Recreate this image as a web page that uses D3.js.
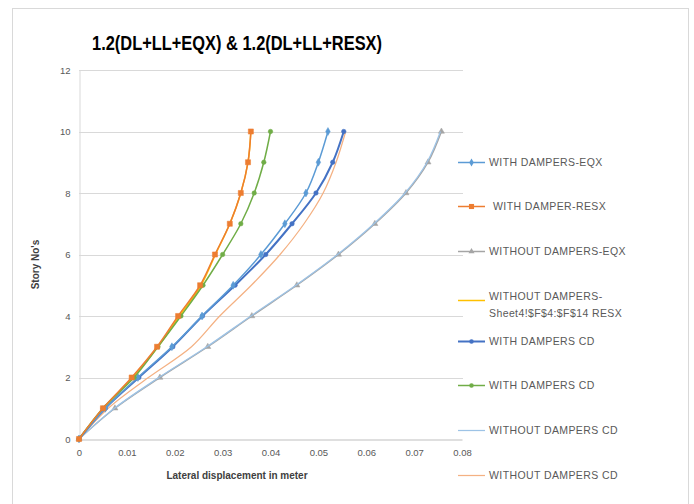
<!DOCTYPE html>
<html>
<head>
<meta charset="utf-8">
<script src="https://cdn.jsdelivr.net/npm/d3@7"></script>
<style>
  html, body { margin: 0; padding: 0; background: #fff; }
  svg { display: block; }
  text { font-family: "Liberation Sans", "DejaVu Sans", sans-serif; }
</style>
</head>
<body>
<svg id="chart" width="694" height="504"></svg>
<script>
// Storey levels (0 = base)
const stories = [0, 1, 2, 3, 4, 5, 6, 7, 8, 9, 10];

// Lateral displacement (m) per storey for each case
const withDampersEqx    = [0, 0.0055, 0.0123, 0.0194, 0.0257, 0.0322, 0.0380, 0.0430, 0.0474, 0.0500, 0.0520];
const withDamperResx    = [0, 0.0050, 0.0110, 0.0163, 0.0207, 0.0253, 0.0284, 0.0315, 0.0338, 0.0353, 0.0359];
const withoutDampersEqx = [0, 0.0075, 0.0169, 0.0269, 0.0361, 0.0455, 0.0542, 0.0618, 0.0683, 0.0729, 0.0757];
const withoutDampersResx= [0, 0.0051, 0.0112, 0.0165, 0.0210, 0.0255, 0.0285, 0.0315, 0.0338, 0.0353, 0.0359];
const withDampersCdA    = [0, 0.0055, 0.0125, 0.0196, 0.0258, 0.0326, 0.0390, 0.0445, 0.0495, 0.0530, 0.0553];
const withDampersCdB    = [0, 0.0050, 0.0115, 0.0165, 0.0213, 0.0259, 0.0300, 0.0338, 0.0366, 0.0386, 0.0400];
const withoutDampersCdA = [0, 0.0074, 0.0167, 0.0267, 0.0359, 0.0453, 0.0540, 0.0616, 0.0681, 0.0727, 0.0755];
const withoutDampersCdB = [0, 0.0061, 0.0145, 0.0235, 0.0294, 0.0360, 0.0420, 0.0470, 0.0510, 0.0537, 0.0557];

const seriesNames = [
  "WITH DAMPERS-EQX",
  "WITH DAMPER-RESX",
  "WITHOUT DAMPERS-EQX",
  ["WITHOUT DAMPERS-", "Sheet4!$F$4:$F$14 RESX"],
  "WITH DAMPERS CD",
  "WITH DAMPERS CD",
  "WITHOUT DAMPERS CD",
  "WITHOUT DAMPERS CD"
];
const seriesValues = [withDampersEqx, withDamperResx, withoutDampersEqx, withoutDampersResx,
                      withDampersCdA, withDampersCdB, withoutDampersCdA, withoutDampersCdB];
const seriesColors = ["#5B9BD5", "#ED7D31", "#A5A5A5", "#FFC000", "#4472C4", "#70AD47", "#9DC3E6", "#F4B183"];
const seriesMarkers = ["diamond", "square", "triangle", null, "circle", "circle", null, null];
const seriesWidths = [1.5, 1.5, 1.5, 1.5, 2, 1.5, 1.25, 1.25];

const xTicks = [0, 0.01, 0.02, 0.03, 0.04, 0.05, 0.06, 0.07, 0.08];
const yTicks = [0, 2, 4, 6, 8, 10, 12];

const title = "1.2(DL+LL+EQX) & 1.2(DL+LL+RESX)";
const xTitle = "Lateral displacement in meter";
const yTitle = "Story No's";

const svg = d3.select("#chart");

// chart frame
svg.append("rect")
  .attr("x", 12.5).attr("y", 8.5).attr("width", 676).attr("height", 500)
  .attr("fill", "#fff").attr("stroke", "#D9D9D9");

const plot = { left: 79, right: 462, top: 70, bottom: 439 };

const x = d3.scaleLinear().domain([0, 0.08]).range([plot.left, plot.right]);
const y = d3.scaleLinear().domain([0, 12]).range([plot.bottom, plot.top]);

// horizontal gridlines
svg.append("g")
  .selectAll("line")
  .data(yTicks.filter(t => t > 0))
  .join("line")
  .attr("x1", plot.left).attr("x2", plot.right + 1)
  .attr("y1", d => Math.round(y(d)) + 0.5).attr("y2", d => Math.round(y(d)) + 0.5)
  .attr("stroke", "#D9D9D9").attr("stroke-width", 1);

// y axis
const yAxis = svg.append("g")
  .attr("transform", `translate(${plot.left + 0.5},0)`)
  .call(d3.axisLeft(y).tickValues(yTicks).tickSize(0).tickPadding(9).tickFormat(d3.format("d")));
yAxis.select(".domain").attr("stroke", "#D9D9D9");
yAxis.selectAll("text").attr("fill", "#595959").style("font-size", "9.5px");

// x axis
const xAxis = svg.append("g")
  .attr("transform", `translate(0,${Math.round(y(0)) + 0.5})`)
  .call(d3.axisBottom(x).tickValues(xTicks).tickSize(0).tickPadding(10)
    .tickFormat(d => d === 0 ? "0" : d3.format(".2f")(d).replace(/0$/, "")));
xAxis.select(".domain").attr("stroke", "#BFBFBF");
xAxis.selectAll("text").attr("fill", "#595959").style("font-size", "9.5px");

// smoothed series lines
const line = d3.line()
  .x(d => x(d[0]))
  .y(d => y(d[1]))
  .curve(d3.curveCatmullRom.alpha(0.5));

const drawOrder = [3, 7, 2, 6, 4, 0, 5, 1];
const symbolTypes = { diamond: d3.symbolDiamond, square: d3.symbolSquare, triangle: d3.symbolTriangle, circle: d3.symbolCircle };
const symbolSizes = { diamond: 18, square: 26, triangle: 16, circle: 16 };

drawOrder.forEach(i => {
  const pts = seriesValues[i].map((v, k) => [v, stories[k]]);
  const g = svg.append("g");
  g.append("path")
    .attr("d", line(pts))
    .attr("fill", "none")
    .attr("stroke", seriesColors[i])
    .attr("stroke-width", seriesWidths[i])
    .attr("stroke-linejoin", "round");
  if (seriesMarkers[i]) {
    g.selectAll("path.m")
      .data(pts)
      .join("path")
      .attr("class", "m")
      .attr("transform", d => `translate(${x(d[0])},${y(d[1])})`)
      .attr("d", d3.symbol().type(symbolTypes[seriesMarkers[i]]).size(symbolSizes[seriesMarkers[i]]))
      .attr("fill", seriesColors[i])
      .attr("stroke", seriesColors[i])
      .attr("stroke-width", 0.5);
  }
});

// title
svg.append("text")
  .attr("x", 237).attr("y", 50)
  .attr("text-anchor", "middle")
  .attr("fill", "#000")
  .style("font-size", "21px").style("font-weight", "bold")
  .attr("textLength", 290).attr("lengthAdjust", "spacingAndGlyphs")
  .text(title);

// axis titles
svg.append("text")
  .attr("x", 237).attr("y", 479)
  .attr("text-anchor", "middle")
  .attr("fill", "#404040")
  .style("font-size", "10px").style("font-weight", "bold")
  .text(xTitle);

svg.append("text")
  .attr("transform", `translate(39,${(plot.top + plot.bottom) / 2 + 10}) rotate(-90)`)
  .attr("text-anchor", "middle")
  .attr("fill", "#404040")
  .style("font-size", "10px").style("font-weight", "bold")
  .text(yTitle);

// legend
const legendY = [166, 210, 255, 304, 345, 389, 434, 479];
const legend = svg.append("g");
seriesNames.forEach((name, i) => {
  const ly = legendY[i];
  const g = legend.append("g");
  g.append("line")
    .attr("x1", 458).attr("x2", 485)
    .attr("y1", ly - 3.5).attr("y2", ly - 3.5)
    .attr("stroke", seriesColors[i]).attr("stroke-width", seriesWidths[i]);
  if (seriesMarkers[i]) {
    g.append("path")
      .attr("transform", `translate(471.5,${ly - 3.5})`)
      .attr("d", d3.symbol().type(symbolTypes[seriesMarkers[i]]).size(symbolSizes[seriesMarkers[i]]))
      .attr("fill", seriesColors[i]);
  }
  const lines = Array.isArray(name) ? name : [name];
  const tx = i === 1 ? 493 : 489;
  const t = g.append("text")
    .attr("x", tx).attr("y", Array.isArray(name) ? ly - 4 : ly)
    .attr("fill", "#595959")
    .style("font-size", "10.5px")
    .style("letter-spacing", "0.4px");
  lines.forEach((s, k) => {
    t.append("tspan").attr("x", tx).attr("dy", k === 0 ? 0 : 17).text(s);
  });
});
</script>
</body>
</html>
